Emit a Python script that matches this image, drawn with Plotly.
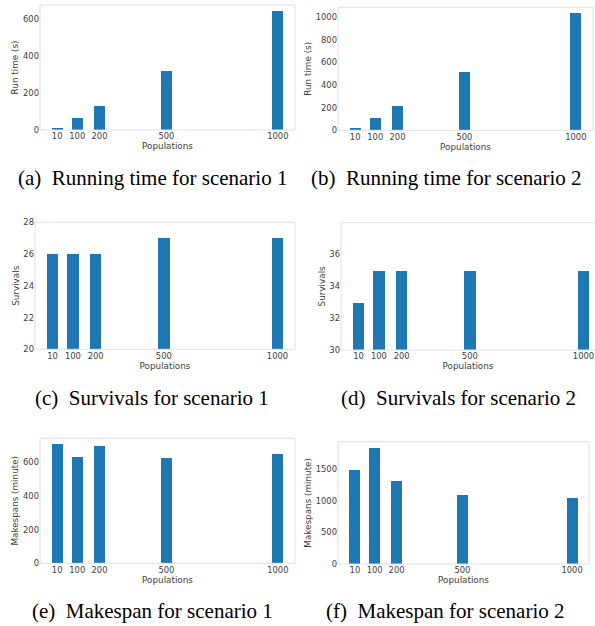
import plotly.graph_objects as go

W, H = 595, 626

populations = [10, 100, 200, 500, 1000]
pop_labels = ["10", "100", "200", "500", "1000"]

run_time_s1 = [9, 63, 128, 322, 646]
run_time_s2 = [11, 106, 212, 516, 1035]
survivals_s1 = [26, 26, 26, 27, 27]
survivals_s2 = [33, 35, 35, 35, 35]
makespan_s1 = [707, 630, 693, 625, 647]
makespan_s2 = [1489, 1848, 1326, 1098, 1045]

captions = [
    "(a)\u00a0\u00a0Running time for scenario 1",
    "(b)\u00a0\u00a0Running time for scenario 2",
    "(c)\u00a0\u00a0Survivals for scenario 1",
    "(d)\u00a0\u00a0Survivals for scenario 2",
    "(e)\u00a0\u00a0Makespan for scenario 1",
    "(f)\u00a0\u00a0Makespan for scenario 2",
]
y_titles = ["Run time (s)", "Run time (s)", "Survivals", "Survivals",
            "Makespans (minute)", "Makespans (minute)"]
series = [run_time_s1, run_time_s2, survivals_s1, survivals_s2, makespan_s1, makespan_s2]

y_ticks = [
    [0, 200, 400, 600],
    [0, 200, 400, 600, 800, 1000],
    [20, 22, 24, 26, 28],
    [30, 32, 34, 36],
    [0, 200, 400, 600],
    [0, 500, 1000, 1500],
]
y_ranges = [
    [0, max(run_time_s1) * 1.05],
    [0, max(run_time_s2) * 1.05],
    [20, 28],
    [30, 38],
    [0, max(makespan_s1) * 1.05],
    [0, max(makespan_s2) * 1.05],
]

# layout in pixels: (left, right, top, bottom)
boxes = [
    (40, 295, 5, 130),
    (338, 593, 7.3, 130.3),
    (35, 295, 222.3, 349.3),
    (341, 601, 222.7, 350),
    (40, 295, 438.3, 563.3),
    (338, 589, 441.7, 564),
]
caption_pos = [(152, 178), (446, 178), (152, 398), (458, 398), (152, 611), (445, 611)]

fig = go.Figure()
TICK_COLOR = "#404040"
FRAME = "#e0e0e0"
shapes = []
annotations = []

for i in range(6):
    n = "" if i == 0 else str(i + 1)
    left, right, top, bottom = boxes[i]
    xr = [-67, 1077]
    frame_x1 = 1.0
    if right > W:
        # the panel is cut by the page edge
        scale = (right - left) / (xr[1] - xr[0])
        xr = [xr[0], xr[0] + (W - left) / scale]
        frame_x1 = (right - left) / (W - left)
        right = W
    fig.add_trace(go.Bar(
        x=populations, y=series[i], width=50,
        marker=dict(color="#1f77b4", line=dict(width=0)),
        xaxis="x" + n, yaxis="y" + n, showlegend=False,
    ))
    fig.update_layout({
        "xaxis" + n: dict(
            domain=[left / W, right / W], range=xr, anchor="y" + n,
            tickvals=populations, ticktext=pop_labels, ticks="",
            showgrid=False, zeroline=False, showline=False,
            tickfont=dict(family="DejaVu Sans", size=8.4, color=TICK_COLOR),
            title=dict(text="Populations", standoff=1,
                       font=dict(family="DejaVu Sans", size=8.8, color=TICK_COLOR)),
            automargin=False,
        ),
        "yaxis" + n: dict(
            domain=[1 - bottom / H, 1 - top / H], range=y_ranges[i], anchor="x" + n,
            tickvals=y_ticks[i], ticks="",
            showgrid=False, zeroline=False, showline=False,
            tickfont=dict(family="DejaVu Sans", size=8.4, color=TICK_COLOR),
            title=dict(text=y_titles[i], standoff=2,
                       font=dict(family="DejaVu Sans", size=8.8, color=TICK_COLOR)),
            automargin=False,
        ),
    })
    shapes.append(dict(type="rect", xref="x" + n + " domain", yref="y" + n + " domain",
                       x0=0, x1=frame_x1, y0=0, y1=1,
                       line=dict(color=FRAME, width=1), layer="above"))
    cx, cy = caption_pos[i]
    annotations.append(dict(text=captions[i], x=cx / W, y=1 - cy / H,
                            xref="paper", yref="paper", showarrow=False,
                            xanchor="center", yanchor="middle",
                            font=dict(family="Liberation Serif", size=21, color="black")))

fig.update_layout(
    width=W, height=H, margin=dict(l=0, r=0, t=0, b=0),
    paper_bgcolor="white", plot_bgcolor="white",
    shapes=shapes, annotations=annotations, bargap=0,
)
fig.write_html(
    "out.html",
    config={"displayModeBar": False},
    post_script="document.body.style.margin='0';document.body.style.overflow='hidden';",
)
